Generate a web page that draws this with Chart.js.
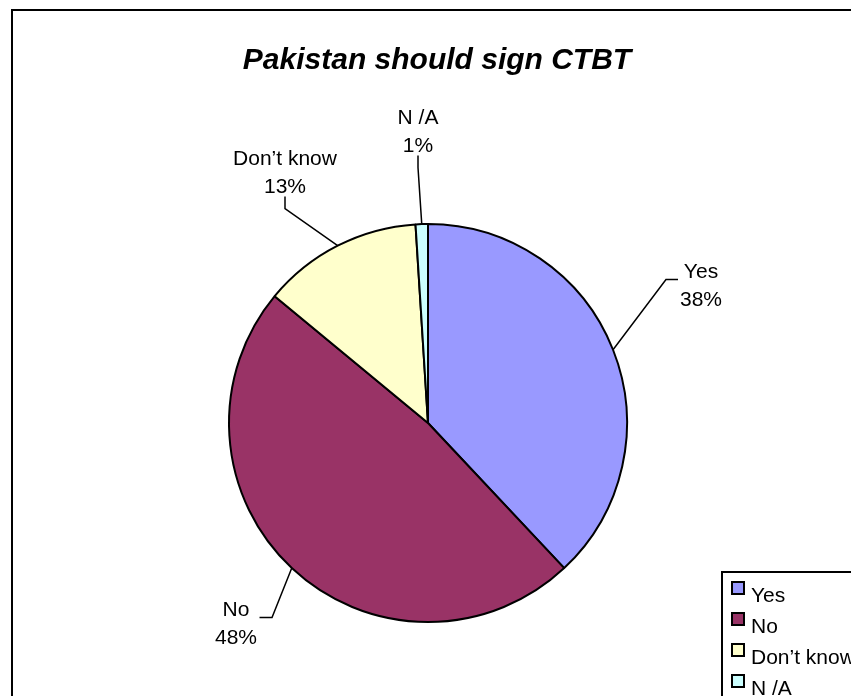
<!DOCTYPE html>
<html>
<head>
<meta charset="utf-8">
<title>Pakistan should sign CTBT</title>
<script src="https://cdn.jsdelivr.net/npm/chart.js@4.4.1/dist/chart.umd.min.js"></script>
<style>
    html, body { margin: 0; padding: 0; background: #fff; overflow: hidden; }
    #wrap { position: relative; width: 851px; height: 696px; }
</style>
</head>
<body>
<div id="wrap"><canvas id="ctbt"></canvas></div>
<script>
const TITLE = 'Pakistan should sign CTBT';
const ANSWERS = ['Yes', 'No', 'Don\u2019t know', 'N /A'];
const SHARES = [38, 48, 13, 1];
const COLOURS = ['#9999FF', '#993366', '#FFFFCC', '#CCFFFF'];

const FONT = '"Liberation Sans", Arial, sans-serif';
const LABEL_PX = 21;
const LINE_GAP = 28;

// chart frame runs off the right and bottom of the window
const FRAME = { x: 12, y: 10, w: 850, h: 700 };
const LEGEND_BOX = { x: 722, y: 572, step: 31 };

// label block centres, relative to the pie centre, and the side the leader leaves from
const LABEL_SPOTS = [
    { dx: 273, dy: -139, side: 'left' },
    { dx: -192, dy: 199, side: 'right' },
    { dx: -143, dy: -252, side: 'below' },
    { dx: -10, dy: -293, side: 'below' }
];

const excelBits = {
    id: 'excelBits',
    beforeDraw(chart) {
        const ctx = chart.ctx;
        ctx.save();
        ctx.strokeStyle = '#000';
        ctx.lineWidth = 2;
        ctx.strokeRect(FRAME.x, FRAME.y, FRAME.w, FRAME.h);
        ctx.restore();
    },
    afterDraw(chart) {
        const ctx = chart.ctx;
        const arcs = chart.getDatasetMeta(0).data;
        const values = chart.data.datasets[0].data;
        const total = values.reduce((p, c) => p + c, 0);

        ctx.save();
        // title
        ctx.fillStyle = '#000';
        ctx.font = 'italic bold 30px ' + FONT;
        ctx.textAlign = 'center';
        ctx.textBaseline = 'alphabetic';
        ctx.fillText(TITLE, FRAME.x + FRAME.w / 2, 69);

        // data labels + leader lines
        ctx.font = LABEL_PX + 'px ' + FONT;
        ctx.strokeStyle = '#000';
        ctx.lineWidth = 1.5;
        arcs.forEach((arc, i) => {
            const spot = LABEL_SPOTS[i];
            const cx = arc.x + spot.dx;
            const cy = arc.y + spot.dy;
            const lines = [chart.data.labels[i], Math.round(values[i] / total * 100) + '%'];
            const w = Math.max(...lines.map(t => ctx.measureText(t).width));
            lines.forEach((t, k) => {
                ctx.fillText(t, cx, cy + (k - 0.5) * LINE_GAP + 7.5);
            });

            const mid = (arc.startAngle + arc.endAngle) / 2;
            const ex = arc.x + Math.cos(mid) * arc.outerRadius;
            const ey = arc.y + Math.sin(mid) * arc.outerRadius;
            let pts;
            if (spot.side === 'left') {
                const lx = cx - w / 2;
                pts = [[lx - 2, cy - 4.5], [lx - 14, cy - 4.5]];
            } else if (spot.side === 'right') {
                const rx = cx + w / 2;
                pts = [[rx + 2.5, cy - 4.5], [rx + 15, cy - 4.5]];
            } else {
                const by = cy + LINE_GAP / 2 + 7.5;
                pts = [[cx, by + 4], [cx, by + 16]];
            }
            ctx.beginPath();
            ctx.moveTo(pts[0][0], pts[0][1]);
            ctx.lineTo(pts[1][0], pts[1][1]);
            ctx.lineTo(ex, ey);
            ctx.stroke();
        });

        // legend
        ctx.lineWidth = 2;
        ctx.strokeRect(LEGEND_BOX.x, LEGEND_BOX.y, 300, 300);
        ctx.textAlign = 'left';
        chart.data.labels.forEach((lab, i) => {
            const top = LEGEND_BOX.y + 10 + i * LEGEND_BOX.step;
            ctx.fillStyle = COLOURS[i];
            ctx.fillRect(LEGEND_BOX.x + 10, top, 12, 12);
            ctx.lineWidth = 2;
            ctx.strokeRect(LEGEND_BOX.x + 10, top, 12, 12);
            ctx.fillStyle = '#000';
            ctx.fillText(lab, LEGEND_BOX.x + 29, top + 20);
        });
        ctx.restore();
    }
};

new Chart(document.querySelector('#ctbt'), {
    type: 'pie',
    data: {
        labels: ANSWERS,
        datasets: [
            {
                data: SHARES,
                backgroundColor: COLOURS,
                borderColor: '#000',
                borderWidth: 2,
                hoverOffset: 0
            }
        ]
    },
    options: {
        responsive: true,
        maintainAspectRatio: false,
        animation: false,
        events: [],
        layout: { padding: { left: 228, right: 223, top: 223, bottom: 73 } },
        plugins: {
            legend: { display: false },
            title: { display: false },
            tooltip: { enabled: false }
        }
    },
    plugins: [excelBits]
});
</script>
</body>
</html>
